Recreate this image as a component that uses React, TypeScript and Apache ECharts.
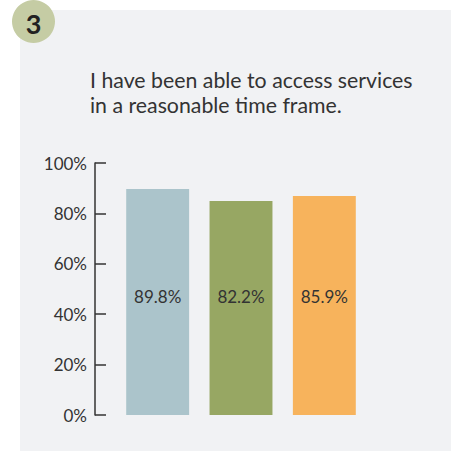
import React, { useEffect, useRef } from "react";
import * as echarts from "echarts";

const categories = ["A", "B", "C"];
// bar heights as drawn in the picture (% of axis)
const barValues = [89.7, 84.9, 86.9];
// printed labels
const barLabels = ["89.8%", "82.2%", "85.9%"];
const barColors = ["#abc4cb", "#97a763", "#f7b35c"];
const yTicks = [0, 20, 40, 60, 80, 100];
const titleLines = ["I have been able to access services", "in a reasonable time frame."];
const badge = "3";

export default function App() {
  const ref = useRef<HTMLDivElement>(null);
  useEffect(() => {
    if (!ref.current) return;
    const chart = echarts.init(ref.current, null, { renderer: "svg" });
    const font = "Lato, 'Noto Sans', sans-serif";
    chart.setOption({
      animation: false,
      backgroundColor: "#ffffff",
      textStyle: { fontFamily: font },
      graphic: [
        { type: "rect", z: -10, shape: { x: 20, y: 10, width: 431, height: 441 }, style: { fill: "#f1f2f4" } },
        { type: "circle", z: 5, shape: { cx: 33.5, cy: 21.5, r: 21.5 }, style: { fill: "#c5cca4" } },
        {
          type: "text", z: 6, x: 33.5, y: 23,
          style: { text: badge, fill: "#222", fontSize: 27, fontWeight: "bold", fontFamily: font, align: "center", verticalAlign: "middle" },
        },
        {
          type: "text", z: 6, x: 90, y: 67,
          style: { text: titleLines.join("\n"), fill: "#333", fontSize: 21.3, lineHeight: 25, fontFamily: font, align: "left", verticalAlign: "top" },
        },
      ],
      grid: { left: 116, top: 163, width: 250, bottom: 36, containLabel: false },
      xAxis: {
        type: "category",
        data: categories,
        show: false,
      },
      yAxis: {
        type: "value",
        min: yTicks[0],
        max: yTicks[yTicks.length - 1],
        interval: 20,
        offset: 21,
        axisLine: { show: true, lineStyle: { color: "#333", width: 1.5 } },
        axisTick: { show: true, inside: true, length: 11, lineStyle: { color: "#333", width: 1.5 } },
        splitLine: { show: false },
        axisLabel: { formatter: "{value}%", color: "#333", fontSize: 17, margin: 8, fontFamily: font },
      },
      series: [
        {
          type: "bar",
          barCategoryGap: "24.5%",
          data: barValues.map((v, i) => ({ value: v, itemStyle: { color: barColors[i] } })),
          label: {
            show: true,
            position: "insideBottom",
            distance: 110,
            color: "#333",
            fontSize: 17,
            fontFamily: font,
            formatter: (p: any) => barLabels[p.dataIndex],
          },
        },
      ],
    });
    return () => chart.dispose();
  }, []);
  return <div ref={ref} style={{ position: "absolute", left: 0, top: 0, width: 453, height: 451 }} />;
}
